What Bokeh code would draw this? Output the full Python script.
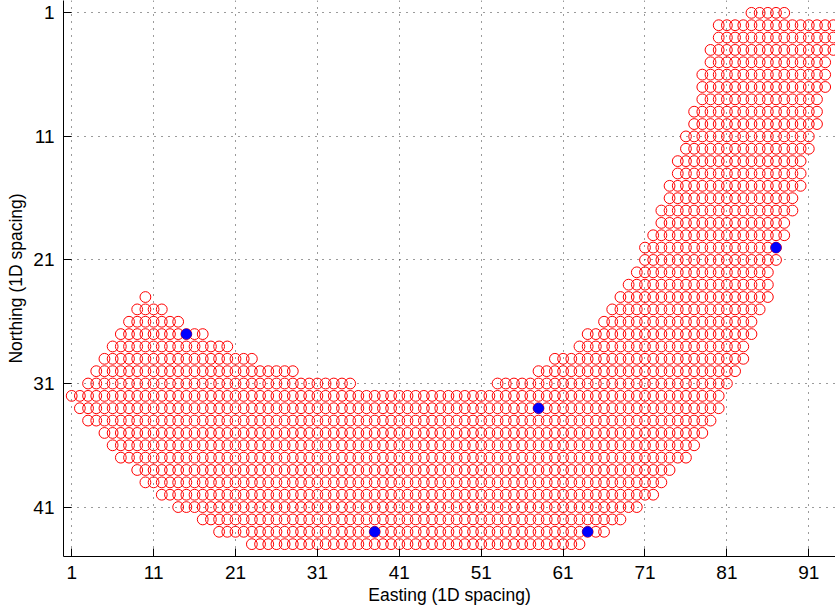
from bokeh.plotting import figure
from bokeh.models import Range1d, FixedTicker
from bokeh.embed import file_html
from bokeh.resources import INLINE

# Row extents of the sampling grid (Northing row, first and last Easting index)
north = [1, 2, 3, 4, 5, 6, 7, 8, 9, 10, 11, 12, 13, 14, 15, 16, 17, 18, 19, 20, 21, 22, 23,
         24, 24, 25, 25, 26, 26, 27, 27, 28, 28, 29, 29, 30, 30, 31, 31,
         32, 33, 34, 35, 36, 37, 38, 39, 40, 41, 42, 43, 44]
east_from = [84, 80, 80, 79, 79, 78, 78, 78, 77, 77, 76, 76, 75, 75, 74, 74, 73, 73, 72, 71, 71, 70, 69,
             10, 68, 9, 67, 8, 66, 7, 64, 6, 63, 5, 60, 4, 58, 3, 53,
             1, 2, 3, 5, 6, 7, 9, 10, 12, 14, 17, 19, 23]
east_to = [88, 94, 94, 94, 93, 93, 93, 92, 92, 92, 91, 91, 90, 90, 90, 89, 89, 88, 88, 87, 87, 86, 86,
           10, 86, 12, 85, 14, 84, 17, 84, 20, 83, 23, 83, 28, 82, 35, 81,
           80, 80, 79, 78, 77, 76, 74, 73, 72, 70, 68, 66, 63]

# Highlighted (blue) locations
blue_east = [15, 87, 58, 38, 64]
blue_north = [27, 20, 33, 43, 43]

x_ticks = [1, 11, 21, 31, 41, 51, 61, 71, 81, 91]
y_ticks = [1, 11, 21, 31, 41]

xs, ys = [], []
for n, a, b in zip(north, east_from, east_to):
    for e in range(a, b + 1):
        xs.append(e)
        ys.append(n)

FONT = "Liberation Sans"

p = figure(width=835, height=609, output_backend="svg", toolbar_location=None,
           x_range=Range1d(0, 94.26), y_range=Range1d(45, 0),
           min_border_left=63, min_border_right=0, min_border_top=0, min_border_bottom=53)
p.outline_line_color = None
p.background_fill_color = "white"
p.border_fill_color = "white"

xt = FixedTicker(ticks=x_ticks)
yt = FixedTicker(ticks=y_ticks)
p.xaxis.ticker = xt
p.yaxis.ticker = yt
p.xgrid.ticker = xt
p.ygrid.ticker = yt

for g in (p.xgrid, p.ygrid):
    g.grid_line_color = "#222222"
    g.grid_line_alpha = 0.9
    g.grid_line_dash = "1 6"
    g.grid_line_width = 1

for ax in (p.xaxis, p.yaxis):
    ax.major_tick_in = 8
    ax.major_tick_out = 0
    ax.minor_tick_in = 0
    ax.minor_tick_out = 0
    ax.axis_line_color = "black"
    ax.major_tick_line_color = "black"
    ax.major_label_text_font = FONT
    ax.major_label_text_font_size = "19px"
    ax.major_label_text_color = "black"
    ax.axis_label_text_font = FONT
    ax.axis_label_text_font_size = "17.5px"
    ax.axis_label_text_font_style = "normal"
    ax.axis_label_text_color = "black"

p.xaxis.axis_label = "Easting (1D spacing)"
p.yaxis.axis_label = "Northing (1D spacing)"
p.xaxis.major_label_standoff = 9
p.xaxis.axis_label_standoff = 3
p.yaxis.major_label_standoff = 9
p.yaxis.axis_label_standoff = 4

p.scatter(xs, ys, marker="circle", size=10.8, fill_color=None,
          line_color="#ff0000", line_width=1)
p.scatter(blue_east, blue_north, marker="circle", size=10, fill_color="#0000ff",
          line_color="#0000ee", line_width=1)

open("out.html", "w").write(file_html(p, INLINE))
